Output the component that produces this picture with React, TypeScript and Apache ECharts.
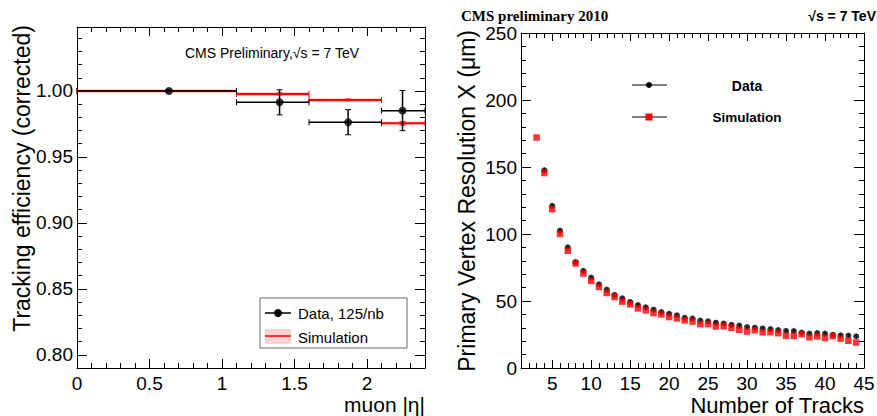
import React, { useEffect, useRef } from 'react';
import * as echarts from 'echarts';

// ---------- Left panel data (tracking efficiency vs muon |eta|) ----------
const etaLow = [0, 1.1, 1.6, 2.1];
const etaHigh = [1.1, 1.6, 2.1, 2.4];
const etaCenter = [0.634, 1.397, 1.87, 2.245];
const effData = [1.0, 0.9914, 0.9763, 0.9851];
const effDataErr = [0.0008, 0.0095, 0.0095, 0.0152];
const effSim = [1.0, 0.9977, 0.9932, 0.9755];
const effSimErr = [0.0004, 0.0007, 0.0007, 0.0013];
const etaTicks = [0, 0.5, 1, 1.5, 2];
const effTicks = [0.8, 0.85, 0.9, 0.95, 1.0];

// ---------- Right panel data (PV resolution vs number of tracks) ----------
const nTracksData = [4, 5, 6, 7, 8, 9, 10, 11, 12, 13, 14, 15, 16, 17, 18, 19, 20, 21, 22, 23, 24, 25, 26, 27, 28, 29, 30, 31, 32, 33, 34, 35, 36, 37, 38, 39, 40, 41, 42, 43, 44];
const resData = [147.5, 121, 102.5, 90, 79, 72.5, 67.5, 62.5, 58.5, 54.5, 52, 49.3, 47, 45.3, 43.5, 41.8, 40.5, 39.3, 37.5, 36.9, 35.4, 34.9, 33.8, 33.2, 32.2, 31.6, 30.6, 30.1, 29.5, 29, 28.3, 27.7, 27.6, 26.5, 25.7, 26.1, 25.7, 24.8, 24.4, 24.2, 23.7];
const resDataErr = [2.0, 1.6, 1.3, 1.2, 1.1, 1.0, 1.0, 1.0, 1.0, 1.0, 1.0, 1.0, 1.0, 1.0, 1.0, 1.0, 1.0, 1.0, 1.0, 1.0, 1.0, 1.0, 1.0, 1.0, 1.0, 1.0, 1.0, 1.0, 1.0, 1.0, 1.0, 1.0, 1.0, 1.0, 1.0, 1.0, 1.0, 1.0, 1.0, 1.0, 1.0];
const nTracksSim = [3, 4, 5, 6, 7, 8, 9, 10, 11, 12, 13, 14, 15, 16, 17, 18, 19, 20, 21, 22, 23, 24, 25, 26, 27, 28, 29, 30, 31, 32, 33, 34, 35, 36, 37, 38, 39, 40, 41, 42, 43, 44];
const resSim = [172, 145.5, 118.5, 100, 87.5, 78, 70.5, 65, 60.5, 56, 53, 49.5, 47.5, 44.5, 43, 41, 40, 38, 37, 35.5, 34.7, 32.8, 32.8, 31, 31.2, 30, 28.5, 27.2, 28.1, 26.7, 26.7, 26, 24.1, 23.9, 25.2, 22.9, 23.6, 22.4, 23.8, 21.9, 20.3, 19];
const trackTicks = [5, 10, 15, 20, 25, 30, 35, 40, 45];
const resTicks = [0, 50, 100, 150, 200, 250];

const FONT = '"Liberation Sans", Arial, Helvetica, sans-serif';

function majorAxis(gridIndex: number, position: string, min: number, max: number, ticks: number[], len: number, showLabel: boolean, fmt?: (v: number) => string, isY?: boolean) {
  return {
    type: 'value', gridIndex, position, min, max,
    axisLine: { show: true, onZero: false, lineStyle: { color: '#000', width: 1 } },
    axisTick: { show: true, inside: true, length: len, customValues: ticks, lineStyle: { color: '#000', width: 1 } },
    axisLabel: {
      show: showLabel, customValues: ticks, formatter: fmt, color: '#000',
      fontSize: 19, fontFamily: FONT, margin: isY ? 4 : 6,
    },
    splitLine: { show: false },
    minorTick: { show: false },
  };
}

function minorAxis(gridIndex: number, position: string, min: number, max: number, interval: number, len: number) {
  return {
    type: 'value', gridIndex, position, min, max, interval,
    axisLine: { show: false, onZero: false },
    axisTick: { show: true, inside: true, length: len, lineStyle: { color: '#000', width: 1 } },
    axisLabel: { show: false },
    splitLine: { show: false },
  };
}

function errRender(color: string, lw: number, band: boolean) {
  return (params: any, api: any) => {
    const lo = api.value(0), hi = api.value(1), c = api.value(2), y = api.value(3), e = api.value(4);
    const a = api.coord([lo, y]);
    const b = api.coord([hi, y]);
    const t = api.coord([c, y + e]);
    const bt = api.coord([c, y - e]);
    const cap = 3;
    const children: any[] = [];
    if (band) {
      const p1 = api.coord([lo, y + e]);
      const p2 = api.coord([hi, y - e]);
      const h = Math.max(p2[1] - p1[1], 4);
      children.push({ type: 'rect', shape: { x: p1[0], y: (p1[1] + p2[1]) / 2 - h / 2, width: p2[0] - p1[0], height: h }, style: { fill: 'rgba(255,110,110,0.3)' } });
    }
    children.push({ type: 'line', shape: { x1: a[0], y1: a[1], x2: b[0], y2: b[1] }, style: { stroke: color, lineWidth: lw } });
    children.push({ type: 'line', shape: { x1: a[0], y1: a[1] - cap, x2: a[0], y2: a[1] + cap }, style: { stroke: color, lineWidth: 1 } });
    children.push({ type: 'line', shape: { x1: b[0], y1: b[1] - cap, x2: b[0], y2: b[1] + cap }, style: { stroke: color, lineWidth: 1 } });
    children.push({ type: 'line', shape: { x1: t[0], y1: t[1], x2: bt[0], y2: bt[1] }, style: { stroke: color, lineWidth: lw } });
    children.push({ type: 'line', shape: { x1: t[0] - cap, y1: t[1], x2: t[0] + cap, y2: t[1] }, style: { stroke: color, lineWidth: 1 } });
    children.push({ type: 'line', shape: { x1: bt[0] - cap, y1: bt[1], x2: bt[0] + cap, y2: bt[1] }, style: { stroke: color, lineWidth: 1 } });
    return { type: 'group', children };
  };
}

export default function App() {
  const ref = useRef<HTMLDivElement>(null);
  useEffect(() => {
    if (!ref.current) return;
    const chart = echarts.init(ref.current, null, { renderer: 'svg' });
    const yMinL = 0.79, yMaxL = 1.0485;
    const option: any = {
      animation: false,
      backgroundColor: '#fff',
      grid: [
        { left: 77, top: 27, width: 348, height: 341, outerBoundsMode: 'none', containLabel: false },
        { left: 521, top: 33, width: 343, height: 335, outerBoundsMode: 'none', containLabel: false },
      ],
      xAxis: [
        majorAxis(0, 'bottom', 0, 2.4, etaTicks, 9, true, (v: number) => String(v)),
        minorAxis(0, 'bottom', 0, 2.4, 0.1, 5),
        majorAxis(0, 'top', 0, 2.4, etaTicks, 9, false),
        minorAxis(0, 'top', 0, 2.4, 0.1, 5),
        majorAxis(1, 'bottom', 1, 45, trackTicks, 8, true, (v: number) => String(v)),
        minorAxis(1, 'bottom', 1, 45, 1, 5),
        majorAxis(1, 'top', 1, 45, trackTicks, 8, false),
        minorAxis(1, 'top', 1, 45, 1, 5),
      ],
      yAxis: [
        majorAxis(0, 'left', yMinL, yMaxL, effTicks, 10, true, (v: number) => v.toFixed(2), true),
        minorAxis(0, 'left', yMinL, yMaxL, 0.01, 5),
        majorAxis(0, 'right', yMinL, yMaxL, effTicks, 10, false),
        minorAxis(0, 'right', yMinL, yMaxL, 0.01, 5),
        majorAxis(1, 'left', 0, 250, resTicks, 10, true, (v: number) => String(v), true),
        minorAxis(1, 'left', 0, 250, 10, 5),
        majorAxis(1, 'right', 0, 250, resTicks, 10, false),
        minorAxis(1, 'right', 0, 250, 10, 5),
      ],
      series: [
        {
          type: 'custom', xAxisIndex: 0, yAxisIndex: 0,
          data: etaLow.map((lo, i) => [lo, etaHigh[i], etaCenter[i], effSim[i], effSimErr[i]]),
          encode: { x: 2, y: 3 },
          renderItem: errRender('#ff0000', 2, true),
        },
        {
          type: 'custom', xAxisIndex: 0, yAxisIndex: 0,
          data: etaLow.map((lo, i) => [lo, etaHigh[i], etaCenter[i], effData[i], effDataErr[i]]),
          encode: { x: 2, y: 3 },
          renderItem: errRender('#000', 1.5, false),
        },
        {
          type: 'scatter', xAxisIndex: 0, yAxisIndex: 0,
          data: etaCenter.map((x, i) => [x, effData[i]]),
          symbol: 'circle', symbolSize: 8, itemStyle: { color: '#000' },
        },
        {
          type: 'custom', xAxisIndex: 4, yAxisIndex: 4,
          data: nTracksData.map((x, i) => [x, resData[i], resDataErr[i]]),
          encode: { x: 0, y: 1 },
          renderItem: (params: any, api: any) => {
            const x = api.value(0), y = api.value(1), e = api.value(2);
            const t = api.coord([x, y + e]);
            const b = api.coord([x, y - e]);
            return { type: 'line', shape: { x1: t[0], y1: t[1], x2: b[0], y2: b[1] }, style: { stroke: '#000', lineWidth: 1 } };
          },
        },
        {
          type: 'scatter', xAxisIndex: 4, yAxisIndex: 4,
          data: nTracksData.map((x, i) => [x, resData[i]]),
          symbol: 'circle', symbolSize: 6, itemStyle: { color: '#000' },
        },
        {
          type: 'scatter', xAxisIndex: 4, yAxisIndex: 4,
          data: nTracksSim.map((x, i) => [x, resSim[i]]),
          symbol: 'rect', symbolSize: 6.5, itemStyle: { color: '#ff0000' },
        },
      ],
      graphic: [
        // left panel texts
        { type: 'text', x: 185, y: 53, style: { text: 'CMS Preliminary,√s = 7 TeV', font: `14px ${FONT}`, fill: '#000', align: 'left', verticalAlign: 'middle' } },
        { type: 'text', x: 22, y: 25, rotation: Math.PI / 2, style: { text: 'Tracking efficiency (corrected)', font: `23px ${FONT}`, fill: '#000', align: 'right', verticalAlign: 'middle' } },
        { type: 'text', x: 425, y: 404, style: { text: 'muon |η|', font: `21px ${FONT}`, fill: '#000', align: 'right', verticalAlign: 'middle' } },
        // left legend
        { type: 'rect', shape: { x: 260, y: 298, width: 147, height: 50 }, style: { fill: '#fff', stroke: '#666', lineWidth: 1 } },
        { type: 'line', shape: { x1: 265, y1: 313, x2: 291, y2: 313 }, style: { stroke: '#000', lineWidth: 1.5 } },
        { type: 'circle', shape: { cx: 278, cy: 313, r: 4 }, style: { fill: '#000' } },
        { type: 'text', x: 298, y: 313, style: { text: 'Data, 125/nb', font: `15px ${FONT}`, fill: '#000', align: 'left', verticalAlign: 'middle' } },
        { type: 'rect', shape: { x: 265, y: 329, width: 26, height: 15 }, style: { fill: 'rgba(255,110,110,0.3)' } },
        { type: 'line', shape: { x1: 265, y1: 336, x2: 291, y2: 336 }, style: { stroke: '#ff0000', lineWidth: 1.5 } },
        { type: 'text', x: 298, y: 337, style: { text: 'Simulation', font: `15px ${FONT}`, fill: '#000', align: 'left', verticalAlign: 'middle' } },
        // right panel texts
        { type: 'text', x: 461, y: 15.5, style: { text: 'CMS preliminary 2010', font: `bold 15px "Liberation Serif", "Times New Roman", serif`, fill: '#000', align: 'left', verticalAlign: 'middle' } },
        { type: 'text', x: 876, y: 16, style: { text: '√s = 7 TeV', font: `bold 14px ${FONT}`, fill: '#000', align: 'right', verticalAlign: 'middle' } },
        { type: 'text', x: 467, y: 30, rotation: Math.PI / 2, style: { text: 'Primary Vertex Resolution X (μm)', font: `23px ${FONT}`, fill: '#000', align: 'right', verticalAlign: 'middle' } },
        { type: 'text', x: 864, y: 405, style: { text: 'Number of Tracks', font: `22px ${FONT}`, fill: '#000', align: 'right', verticalAlign: 'middle' } },
        // right legend
        { type: 'line', shape: { x1: 632, y1: 85, x2: 667, y2: 85 }, style: { stroke: '#000', lineWidth: 1 } },
        { type: 'circle', shape: { cx: 649, cy: 85, r: 3 }, style: { fill: '#000' } },
        { type: 'text', x: 747, y: 86, style: { text: 'Data', font: `bold 14px ${FONT}`, fill: '#000', align: 'center', verticalAlign: 'middle' } },
        { type: 'line', shape: { x1: 632, y1: 117, x2: 667, y2: 117 }, style: { stroke: '#000', lineWidth: 1 } },
        { type: 'rect', shape: { x: 645.5, y: 113.5, width: 7, height: 7 }, style: { fill: '#ff0000' } },
        { type: 'text', x: 747, y: 117, style: { text: 'Simulation', font: `bold 13.5px ${FONT}`, fill: '#000', align: 'center', verticalAlign: 'middle' } },
      ],
    };
    chart.setOption(option);
    return () => chart.dispose();
  }, []);
  return <div ref={ref} style={{ position: 'absolute', left: 0, top: 0, width: 877, height: 416 }} />;
}
